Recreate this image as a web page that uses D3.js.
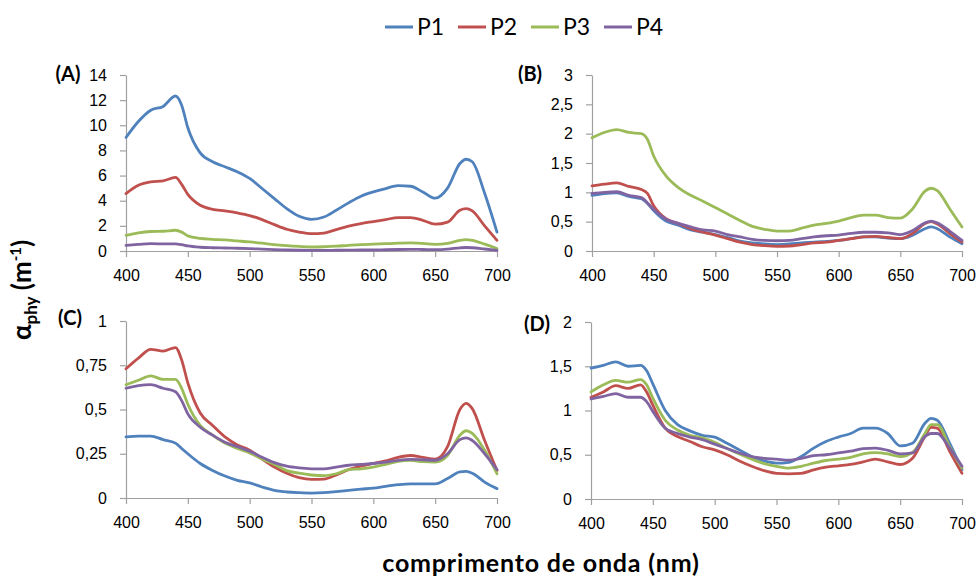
<!DOCTYPE html>
<html>
<head>
<meta charset="utf-8">
<script src="https://cdn.jsdelivr.net/npm/d3@7"></script>
<style>
    body { margin: 0; background: #fff; }
    svg { display: block; font-family: Lato, "Open Sans", sans-serif; }
    .tick text { fill: #000; font-size: 16px; }
</style>
</head>
<body>
<svg id="chart" width="979" height="579"></svg>
<script>
// wavelengths (nm) shared by every series
const wavelengths = [400, 410, 420, 430, 440, 445, 450, 460, 470, 480, 490, 500, 510, 520, 530,
    540, 550, 560, 570, 580, 590, 600, 610, 620, 630, 640, 650, 660, 670, 675, 680, 690, 700];

const seriesNames = ["P1", "P2", "P3", "P4"];
const seriesColors = ["#4F81BD", "#C0504D", "#9BBB59", "#8064A2"];

const xTicks = [400, 450, 500, 550, 600, 650, 700];

// (A)
const a_P1 = [9.03, 10.3, 11.2, 11.5, 12.33, 11.6, 9.8, 7.8, 7.1, 6.7, 6.3, 5.77, 4.97, 4.17, 3.37,
    2.76, 2.52, 2.7, 3.24, 3.83, 4.36, 4.7, 4.97, 5.2, 5.15, 4.7, 4.2, 5.0, 6.96, 7.3, 7.1, 4.6, 1.5];
const a_P2 = [4.57, 5.23, 5.5, 5.58, 5.85, 5.3, 4.5, 3.64, 3.32, 3.19, 3.03, 2.82, 2.5, 2.1, 1.73,
    1.51, 1.38, 1.43, 1.7, 1.97, 2.18, 2.34, 2.5, 2.66, 2.66, 2.44, 2.13, 2.3, 3.24, 3.37, 3.19, 2.0, 0.85];
const a_P3 = [1.25, 1.45, 1.55, 1.57, 1.65, 1.5, 1.2, 1.0, 0.93, 0.88, 0.8, 0.72, 0.62, 0.5, 0.42,
    0.36, 0.32, 0.34, 0.38, 0.45, 0.5, 0.54, 0.58, 0.62, 0.64, 0.6, 0.53, 0.6, 0.85, 0.9, 0.85, 0.55, 0.2];
const a_P4 = [0.45, 0.52, 0.58, 0.57, 0.56, 0.5, 0.4, 0.3, 0.26, 0.24, 0.22, 0.19, 0.15, 0.11, 0.08,
    0.06, 0.05, 0.05, 0.06, 0.07, 0.08, 0.08, 0.1, 0.12, 0.13, 0.12, 0.11, 0.15, 0.25, 0.28, 0.26, 0.16, 0.05];

// (B)
const b_P1 = [0.95, 0.98, 0.99, 0.93, 0.89, 0.81, 0.69, 0.51, 0.44, 0.36, 0.32, 0.28, 0.23, 0.17, 0.14,
    0.12, 0.11, 0.12, 0.14, 0.15, 0.165, 0.18, 0.21, 0.24, 0.24, 0.22, 0.21, 0.27, 0.38, 0.41, 0.38, 0.24, 0.125];
const b_P2 = [1.11, 1.14, 1.16, 1.1, 1.05, 0.98, 0.77, 0.55, 0.47, 0.38, 0.32, 0.27, 0.21, 0.15, 0.11,
    0.09, 0.08, 0.085, 0.11, 0.14, 0.15, 0.18, 0.21, 0.24, 0.25, 0.23, 0.21, 0.3, 0.47, 0.5, 0.46, 0.3, 0.15];
const b_P3 = [1.93, 2.02, 2.07, 2.02, 2.0, 1.9, 1.62, 1.28, 1.08, 0.95, 0.85, 0.74, 0.63, 0.52, 0.42,
    0.37, 0.34, 0.34, 0.39, 0.44, 0.47, 0.51, 0.57, 0.61, 0.61, 0.57, 0.56, 0.72, 1.02, 1.07, 1.03, 0.72, 0.41];
const b_P4 = [0.98, 1.0, 1.01, 0.95, 0.91, 0.82, 0.71, 0.54, 0.47, 0.41, 0.36, 0.34, 0.28, 0.24, 0.2,
    0.18, 0.175, 0.18, 0.21, 0.24, 0.26, 0.27, 0.3, 0.32, 0.32, 0.31, 0.28, 0.35, 0.48, 0.51, 0.48, 0.34, 0.18];

// (C)
const c_P1 = [0.345, 0.35, 0.35, 0.33, 0.31, 0.28, 0.25, 0.195, 0.156, 0.124, 0.1, 0.085, 0.062, 0.043, 0.034,
    0.03, 0.028, 0.03, 0.036, 0.043, 0.05, 0.056, 0.066, 0.075, 0.08, 0.08, 0.08, 0.11, 0.147, 0.15, 0.14, 0.09, 0.053];
const c_P2 = [0.73, 0.79, 0.84, 0.83, 0.85, 0.78, 0.65, 0.48, 0.41, 0.345, 0.3, 0.27, 0.22, 0.175, 0.14,
    0.115, 0.105, 0.107, 0.13, 0.16, 0.18, 0.195, 0.21, 0.23, 0.24, 0.23, 0.22, 0.29, 0.5, 0.535, 0.505, 0.325, 0.155];
const c_P3 = [0.64, 0.665, 0.69, 0.67, 0.67, 0.62, 0.53, 0.41, 0.355, 0.31, 0.28, 0.255, 0.22, 0.19, 0.155,
    0.14, 0.13, 0.126, 0.137, 0.16, 0.165, 0.175, 0.19, 0.207, 0.213, 0.205, 0.203, 0.24, 0.355, 0.38, 0.365, 0.27, 0.137];
const c_P4 = [0.62, 0.635, 0.64, 0.62, 0.6, 0.55, 0.475, 0.4, 0.355, 0.315, 0.29, 0.265, 0.23, 0.2, 0.18,
    0.17, 0.165, 0.164, 0.175, 0.185, 0.19, 0.195, 0.203, 0.213, 0.218, 0.216, 0.213, 0.25, 0.33, 0.34, 0.325, 0.25, 0.16];

// (D)
const d_P1 = [1.48, 1.51, 1.55, 1.5, 1.51, 1.45, 1.3, 1.0, 0.84, 0.77, 0.72, 0.7, 0.63, 0.555, 0.48,
    0.43, 0.405, 0.415, 0.48, 0.575, 0.65, 0.7, 0.74, 0.8, 0.8, 0.74, 0.6, 0.63, 0.855, 0.91, 0.89, 0.63, 0.33];
const d_P2 = [1.15, 1.21, 1.28, 1.25, 1.29, 1.21, 1.06, 0.8, 0.705, 0.65, 0.59, 0.555, 0.5, 0.43, 0.37,
    0.32, 0.29, 0.285, 0.29, 0.33, 0.36, 0.375, 0.39, 0.42, 0.45, 0.42, 0.39, 0.46, 0.705, 0.81, 0.8, 0.54, 0.29];
const d_P3 = [1.21, 1.29, 1.34, 1.32, 1.35, 1.29, 1.14, 0.89, 0.78, 0.72, 0.69, 0.64, 0.57, 0.51, 0.45,
    0.4, 0.37, 0.35, 0.37, 0.405, 0.435, 0.45, 0.47, 0.51, 0.525, 0.51, 0.48, 0.525, 0.74, 0.84, 0.84, 0.59, 0.35];
const d_P4 = [1.13, 1.16, 1.19, 1.15, 1.15, 1.1, 0.99, 0.8, 0.74, 0.7, 0.67, 0.62, 0.57, 0.52, 0.48,
    0.46, 0.45, 0.44, 0.46, 0.49, 0.5, 0.52, 0.54, 0.57, 0.575, 0.55, 0.51, 0.52, 0.705, 0.74, 0.74, 0.575, 0.37];

const panelLabels = ["(A)", "(B)", "(C)", "(D)"];
const panelYTicks = [
    [0, 2, 4, 6, 8, 10, 12, 14],
    [0, 0.5, 1, 1.5, 2, 2.5, 3],
    [0, 0.25, 0.5, 0.75, 1],
    [0, 0.5, 1, 1.5, 2]
];
const panelSeries = [
    [a_P1, a_P2, a_P3, a_P4],
    [b_P1, b_P2, b_P3, b_P4],
    [c_P1, c_P2, c_P3, c_P4],
    [d_P1, d_P2, d_P3, d_P4]
];

// layout of the four plot areas (pixels)
const panelBoxes = [
    { left: 126, right: 497, top: 75, bottom: 251, labelX: 68, labelY: 81 },
    { left: 592, right: 962, top: 75, bottom: 251, labelX: 530, labelY: 81 },
    { left: 126, right: 497, top: 321, bottom: 498, labelX: 70, labelY: 325 },
    { left: 591, right: 962, top: 322, bottom: 499, labelX: 537, labelY: 331 }
];

const axisColor = "#a0a0a0";
const svg = d3.select("#chart");

function commaFormat(v) {
    return String(v).replace(".", ",");
}

function drawPanel(i) {
    const box = panelBoxes[i];
    const ticks = panelYTicks[i];
    const X = d3.scaleLinear().domain([400, 700]).range([box.left, box.right]);
    const Y = d3.scaleLinear().domain([0, ticks[ticks.length - 1]]).range([box.bottom, box.top]);

    const g = svg.append("g").attr("class", "panel");

    const yAxis = g.append("g")
        .attr("transform", `translate(${box.left},0)`)
        .call(d3.axisLeft(Y).tickValues(ticks).tickFormat(commaFormat)
            .tickSize(6).tickSizeOuter(0).tickPadding(13));

    const xAxis = g.append("g")
        .attr("transform", `translate(0,${box.bottom})`)
        .call(d3.axisBottom(X).tickValues(xTicks).tickFormat(d3.format("d"))
            .tickSize(6).tickSizeOuter(0).tickPadding(13));

    [yAxis, xAxis].forEach(function (ax) {
        ax.selectAll("path.domain").attr("stroke", axisColor).attr("stroke-width", 1.2);
        ax.selectAll(".tick line").attr("stroke", axisColor).attr("stroke-width", 1.2);
    });

    const line = d3.line()
        .x(function (d, j) { return X(wavelengths[j]); })
        .y(function (d) { return Y(d); })
        .curve(d3.curveMonotoneX);

    g.selectAll("path.spectrum")
        .data(panelSeries[i])
        .enter()
        .append("path")
        .attr("class", "spectrum")
        .attr("d", line)
        .attr("fill", "none")
        .attr("stroke", function (d, j) { return seriesColors[j]; })
        .attr("stroke-width", 2.8)
        .attr("stroke-linejoin", "round")
        .attr("stroke-linecap", "round");

    g.append("text")
        .attr("x", box.labelX)
        .attr("y", box.labelY)
        .attr("text-anchor", "middle")
        .style("font-size", "20px")
        .style("font-weight", "bold")
        .text(panelLabels[i]);
}

panelBoxes.forEach(function (b, i) { drawPanel(i); });

// legend
const legend = svg.append("g").attr("class", "legend");
seriesNames.forEach(function (name, i) {
    const x0 = 385 + i * 73;
    legend.append("line")
        .attr("x1", x0).attr("x2", x0 + 28)
        .attr("y1", 27).attr("y2", 27)
        .attr("stroke", seriesColors[i])
        .attr("stroke-width", 3);
    legend.append("text")
        .attr("x", x0 + 32)
        .attr("y", 35)
        .style("font-size", "23px")
        .text(name);
});

// axis titles
const yTitle = svg.append("text")
    .attr("transform", "translate(31,290) rotate(-90)")
    .attr("text-anchor", "middle")
    .style("font-size", "26px")
    .style("font-weight", "bold");
yTitle.append("tspan").text("α");
yTitle.append("tspan").attr("dy", 6).style("font-size", "17px").text("phy");
yTitle.append("tspan").attr("dy", -6).text(" (m");
yTitle.append("tspan").attr("dy", -10).style("font-size", "15px").text("-1");
yTitle.append("tspan").attr("dy", 10).text(")");

svg.append("text")
    .attr("x", 541)
    .attr("y", 572)
    .attr("text-anchor", "middle")
    .style("font-size", "25px")
    .style("font-weight", "bold")
    .style("letter-spacing", "0.8px")
    .text("comprimento de onda (nm)");
</script>
</body>
</html>
